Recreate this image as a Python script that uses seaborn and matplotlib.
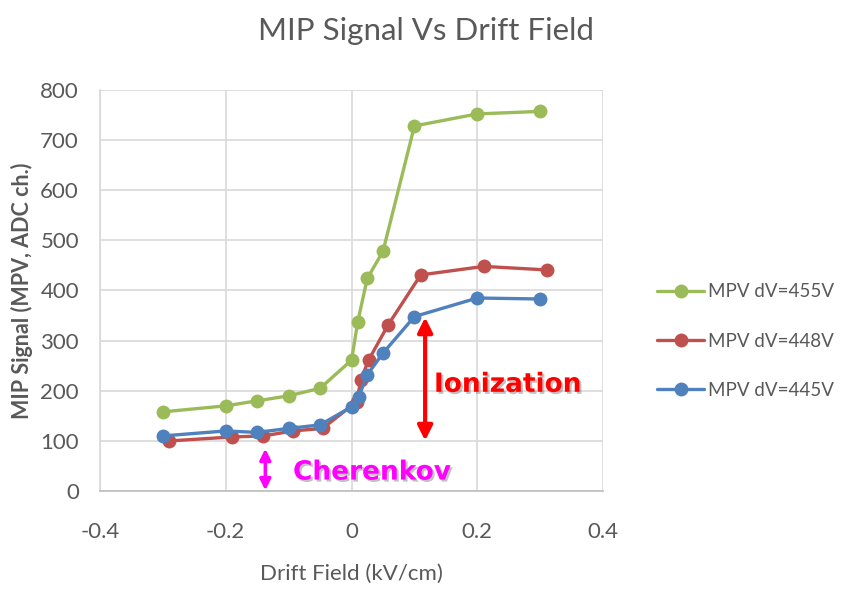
import matplotlib
matplotlib.use("Agg")
import matplotlib.pyplot as plt
import matplotlib.patheffects as pe
import seaborn as sns
import pandas as pd

sns.set_theme(style="white")
plt.rcParams['font.family'] = ['Lato', 'DejaVu Sans']

x_455 = [-0.3, -0.2, -0.15, -0.1, -0.05, 0.0, 0.01, 0.025, 0.05, 0.1, 0.2, 0.3]
y_455 = [158, 170, 180, 190, 205, 261, 338, 424, 478, 728, 752, 757]
x_448 = [-0.29, -0.19, -0.14, -0.093, -0.046, 0.008, 0.015, 0.027, 0.058, 0.11, 0.21, 0.31]
y_448 = [100, 108, 110, 120, 125, 178, 222, 261, 331, 431, 448, 441]
x_445 = [-0.3, -0.2, -0.15, -0.1, -0.05, 0.0, 0.0115, 0.025, 0.05, 0.1, 0.2, 0.3]
y_445 = [110, 120, 117, 125, 132, 168, 188, 232, 275, 348, 385, 383]
labels = ["MPV dV=455V", "MPV dV=448V", "MPV dV=445V"]
colors = ["#9BBB59", "#C0504D", "#4F81BD"]
x_ticks = [-0.4, -0.2, 0, 0.2, 0.4]
x_tick_labels = ["-0.4", "-0.2", "0", "0.2", "0.4"]
y_ticks = [0, 100, 200, 300, 400, 500, 600, 700, 800]

fig = plt.figure(figsize=(8.46, 5.91), dpi=100)
ax = fig.add_axes([0.118, 0.169, 0.595, 0.679])

for xs, ys, lab, c in zip([x_455, x_448, x_445], [y_455, y_448, y_445], labels, colors):
    df = pd.DataFrame({"x": xs, "y": ys})
    sns.lineplot(data=df, x="x", y="y", ax=ax, color=c, marker="o", markersize=10,
                 markeredgewidth=0, linewidth=2.4, label=lab, sort=False)

ax.set_xlim(-0.4, 0.4)
ax.set_ylim(0, 800)
ax.set_xticks(x_ticks)
ax.set_xticklabels(x_tick_labels)
ax.set_yticks(y_ticks)
ax.grid(True, color="#d9d9d9", linewidth=1.2)
for s in ["top", "right"]:
    ax.spines[s].set_visible(False)
ax.spines["left"].set_color("#d9d9d9")
ax.spines["bottom"].set_color("#bfbfbf")
ax.tick_params(axis="both", labelsize=16, colors="#595959", length=0)
ax.tick_params(axis="x", pad=22)
ax.tick_params(axis="y", pad=15)

ax.set_xlabel("Drift Field (kV/cm)", fontsize=16, color="#595959", labelpad=16)
ax.set_ylabel("MIP Signal (MPV, ADC ch.)", fontsize=15.5, color="#595959",
              fontweight="bold", labelpad=5)
fig.text(0.503, 0.948, "MIP Signal Vs Drift Field", ha="center", va="center",
         fontsize=22.5, color="#595959")

leg = ax.legend(loc="center left", bbox_to_anchor=(1.074, 0.374), frameon=False,
                fontsize=13.5, labelspacing=1.72, handlelength=2.5, handletextpad=0.2,
                labelcolor="#595959")

shadow = [pe.SimplePatchShadow(offset=(1.5, -1.5), shadow_rgbFace="#777777", alpha=0.45),
          pe.Normal()]
ax.annotate("", xy=(0.117, 95), xytext=(0.117, 352),
            arrowprops=dict(arrowstyle="<|-|>", color="red", lw=3, mutation_scale=22))
ax.text(0.131, 212, "Ionization", color="red", fontsize=19, fontweight="bold",
        family="DejaVu Sans", va="center", ha="left", path_effects=shadow)
ax.annotate("", xy=(-0.137, -4), xytext=(-0.137, 90),
            arrowprops=dict(arrowstyle="<|-|>", color="#FF00FF", lw=2.5, mutation_scale=16),
            annotation_clip=False)
ax.text(-0.093, 37, "Cherenkov", color="#FF00FF", fontsize=19, fontweight="bold",
        family="DejaVu Sans", va="center", ha="left", path_effects=shadow)

fig.savefig("out.png", dpi=100)
